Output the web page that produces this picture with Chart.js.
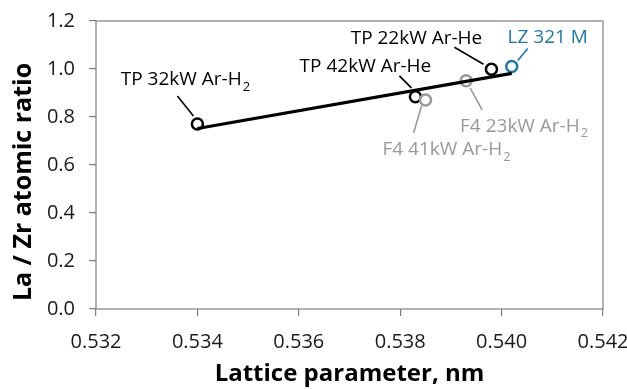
<!DOCTYPE html>
<html lang="en">
<head>
    <meta charset="UTF-8">
    <title>La / Zr atomic ratio vs lattice parameter</title>
    <style>
        html, body { margin: 0; padding: 0; background: #ffffff; }
        #wrap { width: 627px; height: 389px; }
    </style>
</head>
<body>
    <div id="wrap">
        <canvas id="latticeChart" width="627" height="389"></canvas>
    </div>

    <script src="https://cdn.jsdelivr.net/npm/chart.js"></script>
    <script>
        // Values
        const tpLattice = [0.5340, 0.5383, 0.5398];
        const tpRatio = [0.771, 0.884, 0.999];
        const tpNames = ['TP 32kW Ar-H|2', 'TP 42kW Ar-He', 'TP 22kW Ar-He'];

        const f4Lattice = [0.5385, 0.5393];
        const f4Ratio = [0.871, 0.951];
        const f4Names = ['F4 41kW Ar-H|2', 'F4 23kW Ar-H|2'];

        const lzLattice = [0.5402];
        const lzRatio = [1.01];
        const lzNames = ['LZ 321 M'];

        const fitLattice = [0.5340, 0.5402];
        const fitRatio = [0.752, 0.982];

        const xTicks = [0.532, 0.534, 0.536, 0.538, 0.540, 0.542];
        const yTicks = [0.0, 0.2, 0.4, 0.6, 0.8, 1.0, 1.2];

        const xTitle = 'Lattice parameter, nm';
        const yTitle = 'La / Zr atomic ratio';

        const toPoints = (xs, ys) => xs.map((x, i) => ({ x: x, y: ys[i] }));

        const FONT = "'Open Sans', 'Noto Sans', sans-serif";
        const BLACK = '#000000';
        const GREY = '#999999';
        const BLUE = '#1f78a4';

        // callout placement: offsets from the marker, in pixels
        const calloutStyle = [
            { ds: 0, i: 0, names: tpNames, color: BLACK, dx: -12, dy: -44, l: [-20, -28, -4, -8] },
            { ds: 0, i: 1, names: tpNames, color: BLACK, dx: -50, dy: -30, l: [-16, -21, -4, -9] },
            { ds: 0, i: 2, names: tpNames, color: BLACK, dx: -75, dy: -31, l: [-37, -22, -8, -5] },
            { ds: 2, i: 0, names: lzNames, color: BLUE, dx: 36, dy: -29, l: [16, -18, 6, -6] },
            { ds: 1, i: 1, names: f4Names, color: GREY, dx: 58, dy: 46, l: [4, 7, 16, 29] },
            { ds: 1, i: 0, names: f4Names, color: GREY, dx: 21, dy: 50, l: [-4, 6, -12, 33] }
        ];

        const calloutPlugin = {
            id: 'callouts',
            afterDatasetsDraw(chart) {
                const ctx = chart.ctx;
                ctx.save();
                calloutStyle.forEach(c => {
                    const el = chart.getDatasetMeta(c.ds).data[c.i];
                    const px = el.x, py = el.y;
                    const parts = c.names[c.i].split('|');
                    // leader line
                    ctx.strokeStyle = c.color;
                    ctx.lineWidth = 1.6;
                    ctx.beginPath();
                    ctx.moveTo(px + c.l[0], py + c.l[1]);
                    ctx.lineTo(px + c.l[2], py + c.l[3]);
                    ctx.stroke();
                    // label text, with optional subscript
                    ctx.fillStyle = c.color;
                    ctx.textBaseline = 'middle';
                    ctx.textAlign = 'left';
                    ctx.font = '19px ' + FONT;
                    const w1 = ctx.measureText(parts[0]).width;
                    let w2 = 0;
                    if (parts[1]) {
                        ctx.font = '13px ' + FONT;
                        w2 = ctx.measureText(parts[1]).width + 1;
                    }
                    const x0 = px + c.dx - (w1 + w2) / 2;
                    const y0 = py + c.dy;
                    ctx.font = '19px ' + FONT;
                    ctx.fillText(parts[0], x0, y0);
                    if (parts[1]) {
                        ctx.font = '13px ' + FONT;
                        ctx.fillText(parts[1], x0 + w1 + 1, y0 + 7);
                    }
                });
                ctx.restore();
            }
        };

        // box around the plot area, and the rotated y title
        const framePlugin = {
            id: 'frame',
            beforeDatasetsDraw(chart) {
                const a = chart.chartArea;
                const ctx = chart.ctx;
                ctx.save();
                ctx.strokeStyle = '#7f7f7f';
                ctx.lineWidth = 1.2;
                ctx.strokeRect(a.left, a.top, a.right - a.left, a.bottom - a.top);
                ctx.translate(24, (a.top + a.bottom) / 2 + 17);
                ctx.rotate(-Math.PI / 2);
                ctx.fillStyle = '#000000';
                ctx.font = 'bold 25px ' + FONT;
                ctx.textAlign = 'center';
                ctx.textBaseline = 'middle';
                ctx.fillText(yTitle, 0, 0);
                ctx.restore();
            }
        };

        const ctx = document.getElementById('latticeChart').getContext('2d');
        new Chart(ctx, {
            type: 'scatter',
            data: {
                datasets: [
                    {
                        label: 'TP',
                        data: toPoints(tpLattice, tpRatio),
                        borderColor: BLACK,
                        backgroundColor: '#ffffff',
                        pointRadius: 5.5,
                        borderWidth: 2.5,
                        order: 3
                    },
                    {
                        label: 'F4',
                        data: toPoints(f4Lattice, f4Ratio),
                        borderColor: GREY,
                        backgroundColor: '#ffffff',
                        pointRadius: 5.5,
                        borderWidth: 2.5,
                        order: 2
                    },
                    {
                        label: 'LZ 321 M',
                        data: toPoints(lzLattice, lzRatio),
                        borderColor: BLUE,
                        backgroundColor: '#ffffff',
                        pointRadius: 5.5,
                        borderWidth: 2.5,
                        order: 1
                    },
                    {
                        label: 'fit',
                        type: 'line',
                        data: toPoints(fitLattice, fitRatio),
                        borderColor: BLACK,
                        borderWidth: 3.2,
                        pointRadius: 0,
                        showLine: true,
                        fill: false,
                        order: 0
                    }
                ]
            },
            options: {
                responsive: false,
                animation: false,
                layout: { padding: { left: 0, right: 24, top: 21, bottom: 0 } },
                plugins: {
                    legend: { display: false },
                    tooltip: { enabled: false }
                },
                scales: {
                    x: {
                        type: 'linear',
                        min: 0.532,
                        max: 0.542,
                        afterBuildTicks: axis => { axis.ticks = xTicks.map(v => ({ value: v })); },
                        afterFit: axis => {
                            axis.height = 80;
                            axis.paddingLeft = 0;
                            axis.paddingRight = 0;
                        },
                        grid: { drawOnChartArea: false, drawTicks: true, tickLength: 7, color: '#7f7f7f', lineWidth: 1.2 },
                        border: { display: false },
                        ticks: {
                            color: '#1a1a1a',
                            font: { family: FONT, size: 20 },
                            padding: 14,
                            maxRotation: 0,
                            callback: v => v.toFixed(3)
                        },
                        title: {
                            display: true,
                            text: xTitle,
                            color: '#000000',
                            font: { family: FONT, size: 24, weight: 'bold' },
                            padding: { top: 4, bottom: 0 }
                        }
                    },
                    y: {
                        type: 'linear',
                        min: 0,
                        max: 1.2,
                        afterBuildTicks: axis => { axis.ticks = yTicks.map(v => ({ value: v })); },
                        afterFit: axis => {
                            axis.width = 96;
                            axis.paddingTop = 0;
                            axis.paddingBottom = 0;
                        },
                        grid: { drawOnChartArea: false, drawTicks: true, tickLength: 7, color: '#7f7f7f', lineWidth: 1.2 },
                        border: { display: false },
                        ticks: {
                            color: '#1a1a1a',
                            font: { family: FONT, size: 20 },
                            padding: 14,
                            callback: v => v.toFixed(1)
                        },
                        title: { display: false }
                    }
                }
            },
            plugins: [framePlugin, calloutPlugin]
        });
    </script>
</body>
</html>
